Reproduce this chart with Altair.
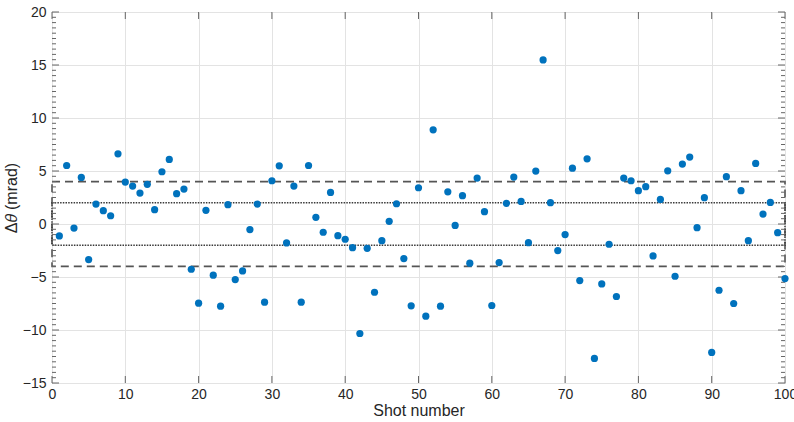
import altair as alt
import pandas as pd

# Angular deviation per shot (mrad)
shot = list(range(1, 101))
dtheta = [
    -1.13, 5.52, -0.38, 4.39, -3.36, 1.88, 1.26, 0.78, 6.62, 3.96,
    3.58, 2.92, 3.74, 1.35, 4.93, 6.09, 2.86, 3.30, -4.27, -7.47,
    1.29, -4.83, -7.75, 1.82, -5.24, -4.43, -0.53, 1.88, -7.38, 4.08,
    5.49, -1.79, 3.58, -7.38, 5.52, 0.63, -0.78, 2.98, -1.10, -1.44,
    -2.23, -10.33, -2.29, -6.44, -1.57, 0.25, 1.91, -3.26, -7.72, 3.42,
    -8.70, 8.88, -7.75, 3.04, -0.13, 2.67, -3.70, 4.33, 1.16, -7.69,
    -3.64, 1.95, 4.43, 2.13, -1.76, 4.99, 15.48, 2.01, -2.51, -1.00,
    5.27, -5.34, 6.15, -12.68, -5.65, -1.91, -6.84, 4.33, 4.08, 3.14,
    3.52, -3.01, 2.32, 5.02, -4.93, 5.65, 6.31, -0.35, 2.48, -12.12,
    -6.25, 4.46, -7.50, 3.14, -1.57, 5.71, 0.94, 2.04, -0.82, -5.15,
]

# Tolerance bands (mrad)
band_inner = 2
band_outer = 4

x_ticks = list(range(0, 101, 10))
y_major = list(range(-15, 21, 5))
y_minor = [v / 2 for v in range(-30, 41) if v % 10 != 0]

W, H = 733, 371
FONT = "Liberation Sans"
BLUE = "#0072BD"

pts = pd.DataFrame({"shot": shot, "dtheta": dtheta})
xs = alt.Scale(domain=[0, 100], nice=False)
ys = alt.Scale(domain=[-15, 20], nice=False)

points = alt.Chart(pts).mark_circle(size=52, opacity=1, color=BLUE).encode(
    x=alt.X("shot:Q", scale=xs, title="Shot number",
            axis=alt.Axis(values=x_ticks, ticks=False, domain=False, grid=True,
                          gridColor="#e3e3e3", labelFont=FONT, labelFontSize=14,
                          labelColor="#262626", labelPadding=4, labelFlush=False,
                          titleFont=FONT, titleFontSize=16, titleFontWeight="normal",
                          titleColor="#262626", titlePadding=1)),
    y=alt.Y("dtheta:Q", scale=ys, title="Δ𝜃 (mrad)",
            axis=alt.Axis(values=y_major, ticks=False, domain=False, grid=True,
                          gridColor="#e3e3e3", labelFont=FONT, labelFontSize=14,
                          labelColor="#262626", labelPadding=6, labelFlush=False,
                          titleFont=FONT, titleFontSize=16, titleFontWeight="normal",
                          titleColor="#262626", titlePadding=3)),
)

bands = pd.DataFrame({
    "x0": [0, 0], "x1": [100, 100],
    "lo": [-band_outer, -band_inner], "hi": [band_outer, band_inner],
    "kind": ["outer", "inner"],
})
outer_box = alt.Chart(bands[bands.kind == "outer"]).mark_rect(
    filled=False, stroke="#555555", strokeWidth=1.6, strokeDash=[8, 5]
).encode(x=alt.X("x0:Q", scale=xs), x2="x1", y=alt.Y("lo:Q", scale=ys), y2="hi")
inner_box = alt.Chart(bands[bands.kind == "inner"]).mark_rect(
    filled=False, stroke="#3a3a3a", strokeWidth=1.5, strokeDash=[1.5, 1.2]
).encode(x=alt.X("x0:Q", scale=xs), x2="x1", y=alt.Y("lo:Q", scale=ys), y2="hi")

# Inward-pointing tick marks on all four sides
tick_color = "#666666"
ymaj = pd.DataFrame({"v": y_major})
ymin = pd.DataFrame({"v": y_minor})
xmaj = pd.DataFrame({"v": x_ticks})

def yticks(df, length):
    left = alt.Chart(df).mark_rule(color=tick_color, strokeWidth=1).encode(
        y=alt.Y("v:Q", scale=ys), x=alt.value(0), x2=alt.value(length))
    right = alt.Chart(df).mark_rule(color=tick_color, strokeWidth=1).encode(
        y=alt.Y("v:Q", scale=ys), x=alt.value(W - length), x2=alt.value(W))
    return left + right

xt_bottom = alt.Chart(xmaj).mark_rule(color=tick_color, strokeWidth=1).encode(
    x=alt.X("v:Q", scale=xs), y=alt.value(H), y2=alt.value(H - 7))
xt_top = alt.Chart(xmaj).mark_rule(color=tick_color, strokeWidth=1).encode(
    x=alt.X("v:Q", scale=xs), y=alt.value(0), y2=alt.value(7))

chart = alt.layer(
    outer_box, inner_box, yticks(ymaj, 7), yticks(ymin, 4), xt_bottom, xt_top, points
).properties(
    width=W, height=H,
    autosize=alt.AutoSizeParams(type="none"),
    padding={"left": 52, "top": 12, "right": 9, "bottom": 39},
    background="white",
).configure_view(stroke="#9a9a9a", strokeWidth=1)

chart.save("out.html", embed_options={"renderer": "svg", "actions": False})
